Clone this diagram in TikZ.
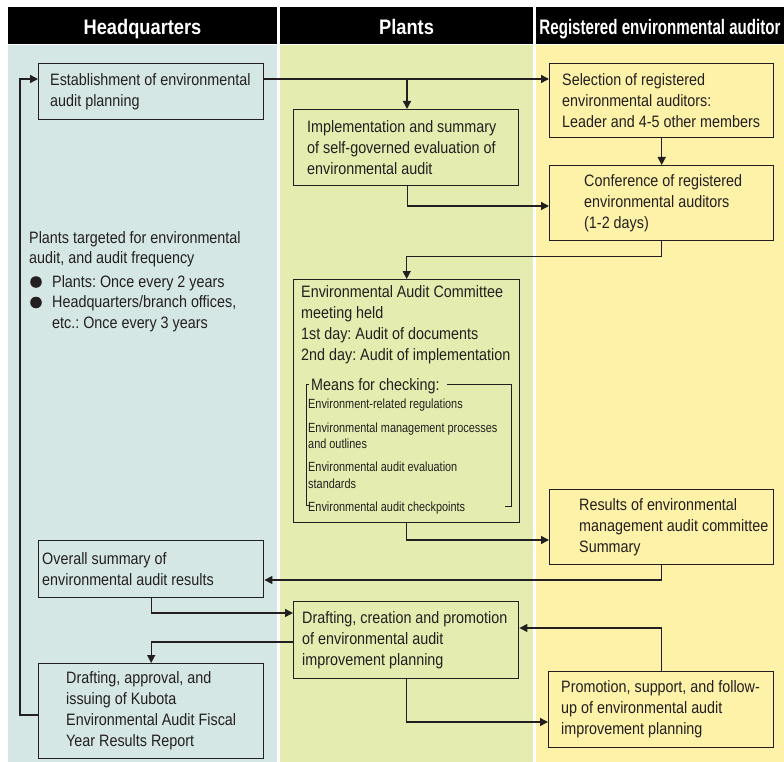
\documentclass[tikz,border=0pt]{standalone}
\usepackage{fontspec}
\setmainfont{Liberation Sans}[FakeStretch=0.87]
\newfontfamily\smallf{Liberation Sans}[FakeStretch=0.82]
\newfontfamily\narrowf{Liberation Sans}[FakeStretch=0.72]
\usetikzlibrary{arrows.meta}
\definecolor{hqbg}{HTML}{D5E7E4}
\definecolor{plbg}{HTML}{E4EDAF}
\definecolor{aubg}{HTML}{FDF2A8}
\definecolor{ink}{HTML}{231F20}
\newcommand\flowbox[8]{%
  \node[box, fill=#2, minimum width=#5, minimum height=#6] (#1) at (#3,#4) {};
  \node[btext] (#1t) at ([xshift=#7pt]#1.west) {#8};}
\frenchspacing
\begin{document}
\begin{tikzpicture}[x=1pt,y=-1pt,
  every node/.style={text=ink, font=\frenchspacing\fontsize{16.5}{21}\selectfont},
  box/.style={draw=ink, line width=1.4pt, anchor=north west, inner sep=0pt},
  btext/.style={anchor=west, align=left, inner sep=0pt},
  small/.style={anchor=base west, inner sep=0pt, font=\smallf\fontsize{13.3}{16.5}\selectfont},
  arr/.style={draw=ink, line width=1.4pt, -{Triangle[length=8pt,width=8pt]}},
  hdr/.style={fill=black, text=white, minimum height=37pt, inner sep=0pt,
    text height=19pt, text depth=0pt, font=\bfseries\fontsize{21}{24}\selectfont}]
\useasboundingbox (0,0) rectangle (784,762);
% column backgrounds
\fill[hqbg] (8,45) rectangle (277,762);
\fill[plbg] (280,45) rectangle (533,762);
\fill[aubg] (536,45) rectangle (784,762);
% headers
\node[hdr, minimum width=269pt] (h1) at (142.5,25.5) {Headquarters};
\node[hdr, minimum width=253pt] (h2) at (406.5,25.5) {Plants};
\node[hdr, minimum width=248pt] (h3) at (660,25.5) {\narrowf Registered environmental auditor};
% boxes
\flowbox{A}{hqbg}{38}{63}{225pt}{56pt}{12}{Establishment of environmental\\audit planning}
\flowbox{B}{plbg}{293}{109}{225pt}{76pt}{14}{Implementation and summary\\of self-governed evaluation of\\environmental audit}
\flowbox{C}{aubg}{549}{63}{224pt}{74pt}{13}{Selection of registered\\environmental auditors:\\Leader and 4-5 other members}
\flowbox{D}{aubg}{549}{165}{224pt}{75pt}{35}{Conference of registered\\environmental auditors\\(1-2 days)}
\node[box, fill=plbg, minimum width=226pt, minimum height=243pt] (E) at (293,279) {};
\flowbox{F}{aubg}{549}{489}{224pt}{75pt}{30}{Results of environmental\\management audit committee\\Summary}
\flowbox{G}{hqbg}{38}{540}{225pt}{57pt}{4}{Overall summary of\\environmental audit results}
\flowbox{H}{plbg}{293}{601}{225pt}{77pt}{9}{Drafting, creation and promotion\\of environmental audit\\improvement planning}
\flowbox{I}{hqbg}{38}{663}{225pt}{95pt}{28}{Drafting, approval, and\\issuing of Kubota\\Environmental Audit Fiscal\\Year Results Report}
\flowbox{J}{aubg}{548}{671}{225pt}{76pt}{13}{Promotion, support, and follow-\\up of environmental audit\\improvement planning}
% committee contents
\node[btext, anchor=north west] (Et) at (301,285) {Environmental Audit Committee\\meeting held\\1st day: Audit of documents\\2nd day: Audit of implementation};
\node[anchor=base west, inner sep=0pt] (Mt) at (311,390) {Means for checking:};
\draw[ink, line width=1pt] (309,384) -- (306,384) -- (306,505) -- (310,505);
\draw[ink, line width=1pt] (447,384) -- (511,384) -- (511,506) -- (505,506);
\node[small] (s1) at (308,408) {Environment-related regulations};
\node[small] (s2) at (308,432) {Environmental management processes};
\node[small] (s2b) at (308,448) {and outlines};
\node[small] (s3) at (308,471) {Environmental audit evaluation};
\node[small] (s3b) at (308,488) {standards};
\node[small] (s4) at (308,511) {Environmental audit checkpoints};
% left note
\node[btext, anchor=north west, font=\fontsize{16.5}{20.5}\selectfont] (P1) at (29,231) {Plants targeted for environmental\\audit, and audit frequency};
\node[btext, anchor=north west, font=\fontsize{16.5}{20.5}\selectfont] (P2) at (52,275) {Plants: Once every 2 years\\Headquarters/branch offices,\\etc.: Once every 3 years};
\fill[ink] (36,282) circle[radius=5.8pt];
\fill[ink] (36,302.5) circle[radius=5.8pt];
% connectors
\coordinate (j1) at (407,79);
\draw[arr] ([yshift=-16pt]A.north east) -- ([yshift=-16pt]C.north west);
\draw[arr] (j1) -- (j1 |- B.north);
\draw[arr] (C.south) -- (D.north);
\draw[arr] ([xshift=1.5pt]B.south) |- ([yshift=-41pt]D.north west);
\draw[arr] (D.south) -- ++(0,15) -| (E.north);
\draw[arr] (E.south) |- ([yshift=-51pt]F.north west);
\draw[arr] (F.south) |- ([yshift=-40pt]G.north east);
\draw[arr] (G.south) |- ([yshift=-12pt]H.north west);
\draw[arr] ([yshift=-41pt]H.north west) -| (I.north);
\draw[arr] (J.north) |- ([yshift=-27pt]H.north east);
\draw[arr] (H.south) |- ([yshift=-51pt]J.north west);
\draw[arr] ([yshift=-52pt]I.north west) -- ++(-18,0) |- ([yshift=-16pt]A.north west);
\end{tikzpicture}
\end{document}
